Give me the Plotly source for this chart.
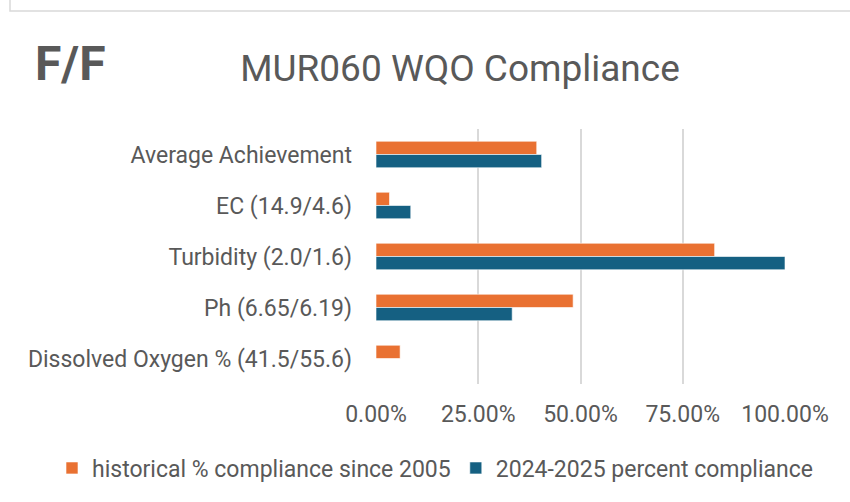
import plotly.graph_objects as go

categories = ["Average Achievement", "EC (14.9/4.6)", "Turbidity (2.0/1.6)",
              "Ph (6.65/6.19)", "Dissolved Oxygen % (41.5/55.6)"]
historical = [39.3, 3.3, 82.8, 48.2, 5.9]
current = [40.5, 8.5, 100.0, 33.3, 0.0]
series_names = ["historical % compliance since 2005", "2024-2025 percent compliance"]
x_ticks = [0, 25, 50, 75, 100]
x_tick_text = [f"{v:.2f}%" for v in x_ticks]

ORANGE = "#E97132"
BLUE = "#156082"
TXT = "#595959"
FONT = "Roboto"

fig = go.Figure()
fig.add_trace(go.Bar(y=categories, x=historical, orientation="h", name=series_names[0],
                     marker=dict(color=ORANGE, line=dict(color="white", width=0.6)),
                     hoverinfo="skip"))
fig.add_trace(go.Bar(y=categories, x=current, orientation="h", name=series_names[1],
                     marker=dict(color=BLUE, line=dict(color="white", width=0.6)),
                     hoverinfo="skip"))

L, R, T, B = 376, 785, 129, 384
W, H = 850, 502
pw, ph = R - L, B - T

def px(xp):
    return (xp - L) / pw

def py(yp):
    return (B - yp) / ph

fig.update_layout(
    width=W, height=H,
    margin=dict(l=L, r=W - R, t=T, b=H - B, autoexpand=False),
    paper_bgcolor="white", plot_bgcolor="white",
    barmode="group", bargap=0.48, bargroupgap=0,
    font=dict(family=FONT, color=TXT, size=23),
    title=dict(text="MUR060 WQO Compliance", xref="container", yref="container",
               x=460 / W, y=1 - 68 / H, xanchor="center", yanchor="middle",
               font=dict(family=FONT, size=37, color=TXT)),
    legend=dict(orientation="h", xref="paper", yref="paper",
                x=px(52), y=py(468), xanchor="left", yanchor="middle",
                font=dict(family=FONT, size=23, color=TXT), traceorder="normal",
                itemwidth=30, itemclick=False, bgcolor="rgba(0,0,0,0)"),
    showlegend=True,
)
fig.update_xaxes(range=[0, 100], tickvals=x_ticks, ticktext=x_tick_text,
                 showgrid=True, gridcolor="#d9d9d9", gridwidth=1.5,
                 zeroline=False, showline=False, ticks="",
                 tickfont=dict(family=FONT, size=23, color=TXT),
                 ticklabelstandoff=14, fixedrange=True)
fig.update_yaxes(categoryorder="array", categoryarray=categories, autorange="reversed",
                 showgrid=False, zeroline=False, showline=False, ticks="",
                 tickfont=dict(family=FONT, size=23, color=TXT),
                 ticklabelstandoff=23, fixedrange=True)

fig.add_annotation(text="<b>F/F</b>", xref="paper", yref="paper",
                   x=px(33), y=py(63), xanchor="left", yanchor="middle",
                   showarrow=False, font=dict(family=FONT, size=48, color=TXT))

fig.add_shape(type="path", xref="paper", yref="paper",
              path=f"M {px(10)} {py(-20)} L {px(10)} {py(11)} L {px(860)} {py(11)}",
              line=dict(color="#d9d9d9", width=1.5), layer="below")

fig.write_html("out.html", config=dict(displayModeBar=False),
               post_script="document.body.style.margin='0';document.body.style.overflow='hidden';")
